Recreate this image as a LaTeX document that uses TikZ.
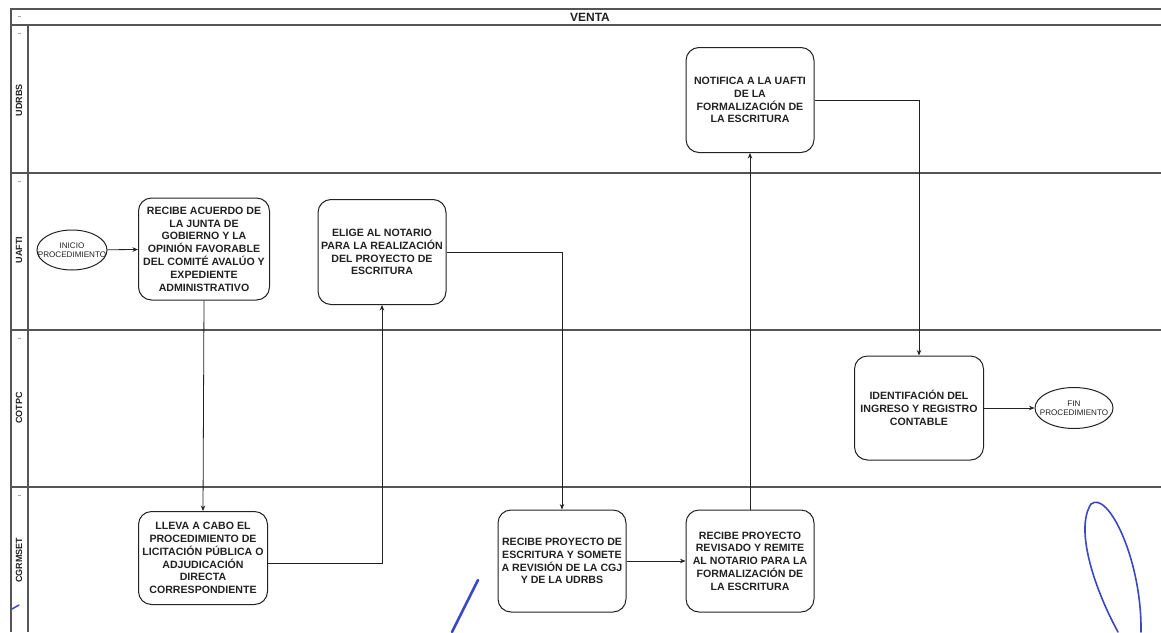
\documentclass[tikz,border=0pt]{standalone}
\usepackage{fontspec}
\setmainfont{Liberation Sans}
\usetikzlibrary{shapes.geometric,arrows.meta}
\definecolor{ink}{HTML}{222222}
\definecolor{rule}{HTML}{555555}
\definecolor{pen}{HTML}{3A46C8}
\tikzset{
  frame/.style={draw=rule, line width=1.1pt},
  task/.style={draw=ink, line width=1pt, rounded corners=13pt, fill=white,
    align=center, inner sep=0pt, text=ink,
    font=\fontsize{10.6}{12.8}\selectfont\bfseries},
  terminal/.style={draw=ink, line width=1pt, ellipse, fill=white,
    align=center, inner xsep=-12pt, inner ysep=0pt, text=ink,
    font=\fontsize{8.1}{9}\selectfont},
  flow/.style={draw=ink, line width=0.8pt, -{Stealth[length=5.5pt,width=4.5pt]}},
  lanelabel/.style={rotate=90, text=ink, font=\fontsize{9}{10}\selectfont\bfseries},
  handle/.style={draw=gray!70, line width=0.8pt},
  scribble/.style={draw=pen, line cap=round}
}
\begin{document}
\begin{tikzpicture}[x=1pt,y=-1pt]
\useasboundingbox (0,0) rectangle (1161,632);

% pool frame, title bar and lane column
\draw[frame] (1161,9) -- (11,9) -- (11,632);
\draw[frame] (11,25) -- (1161,25);
\draw[frame] (28,25) -- (28,632);
\draw[frame] (11,173) -- (1161,173);
\draw[frame] (11,330) -- (1161,330);
\draw[frame] (11,487) -- (1161,487);
\node[text=ink, font=\fontsize{12}{13}\selectfont\bfseries] (title) at (590,17) {VENTA};

% small handles at the top of each header cell
\foreach \y in {16,33,181,338,495}
  \draw[handle] (17.5,\y) -- (20.5,\y);

% lane names
\node[lanelabel] (lUDRBS) at (19,100) {UDRBS};
\node[lanelabel] (lUAFTI) at (19,250) {UAFTI};
\node[lanelabel] (lCOTPC) at (19,408) {COTPC};
\node[lanelabel] (lCGRM) at (19,560) {CGRMSET};

% activities
\node[terminal, minimum width=70pt, minimum height=40pt] (inicio) at (72,250)
  {INICIO\\PROCEDIMIENTO};
\node[task, minimum width=131pt, minimum height=102pt] (acuerdo) at (204,249)
  {RECIBE ACUERDO DE\\LA JUNTA DE\\GOBIERNO Y LA\\OPINIÓN FAVORABLE\\DEL COMITÉ AVALÚO Y\\EXPEDIENTE\\ADMINISTRATIVO};
\node[task, minimum width=128pt, minimum height=105pt] (elige) at (382,252)
  {ELIGE AL NOTARIO\\PARA LA REALIZACIÓN\\DEL PROYECTO DE\\ESCRITURA};
\node[task, minimum width=128pt, minimum height=105pt] (notifica) at (750,100)
  {NOTIFICA A LA UAFTI\\DE LA\\FORMALIZACIÓN DE\\LA ESCRITURA};
\node[task, minimum width=129pt, minimum height=104pt] (ident) at (919,408)
  {IDENTIFACIÓN DEL\\INGRESO Y REGISTRO\\CONTABLE};
\node[terminal, minimum width=78pt, minimum height=41pt] (fin) at (1074,408)
  {FIN\\PROCEDIMIENTO};
\node[task, minimum width=129pt, minimum height=93pt] (lleva) at (203,558)
  {LLEVA A CABO EL\\PROCEDIMIENTO DE\\LICITACIÓN PÚBLICA O\\ADJUDICACIÓN\\DIRECTA\\CORRESPONDIENTE};
\node[task, minimum width=128pt, minimum height=102pt] (somete) at (562,561)
  {RECIBE PROYECTO DE\\ESCRITURA Y SOMETE\\A REVISIÓN DE LA CGJ\\Y DE LA UDRBS};
\node[task, minimum width=128pt, minimum height=102pt] (remite) at (750,561)
  {RECIBE PROYECTO\\REVISADO Y REMITE\\AL NOTARIO PARA LA\\FORMALIZACIÓN DE\\LA ESCRITURA};

% sequence flow
\draw[flow] (inicio) -- (acuerdo);
\draw[flow] (acuerdo.south) -- (lleva.north);
\draw[flow] (lleva.east |- 0,563) -| (elige.south);
\draw[flow] (elige.east) -| (somete.north);
\draw[flow] (somete) -- (remite);
\draw[flow] (remite.north) -- (notifica.south);
\draw[flow] (notifica.east) -| (ident.north);
\draw[flow] (ident) -- (fin);

% ink marks on the sheet
\draw[scribble, line width=1.6pt] (1118,632) .. controls (1096,592) and (1074,530) .. (1091,504)
  .. controls (1108,490) and (1142,560) .. (1141,632);
\draw[scribble, line width=2.6pt] (452,632) -- (478,580);
\draw[scribble, line width=1.5pt] (12,609) -- (19,605);
\end{tikzpicture}
\end{document}
